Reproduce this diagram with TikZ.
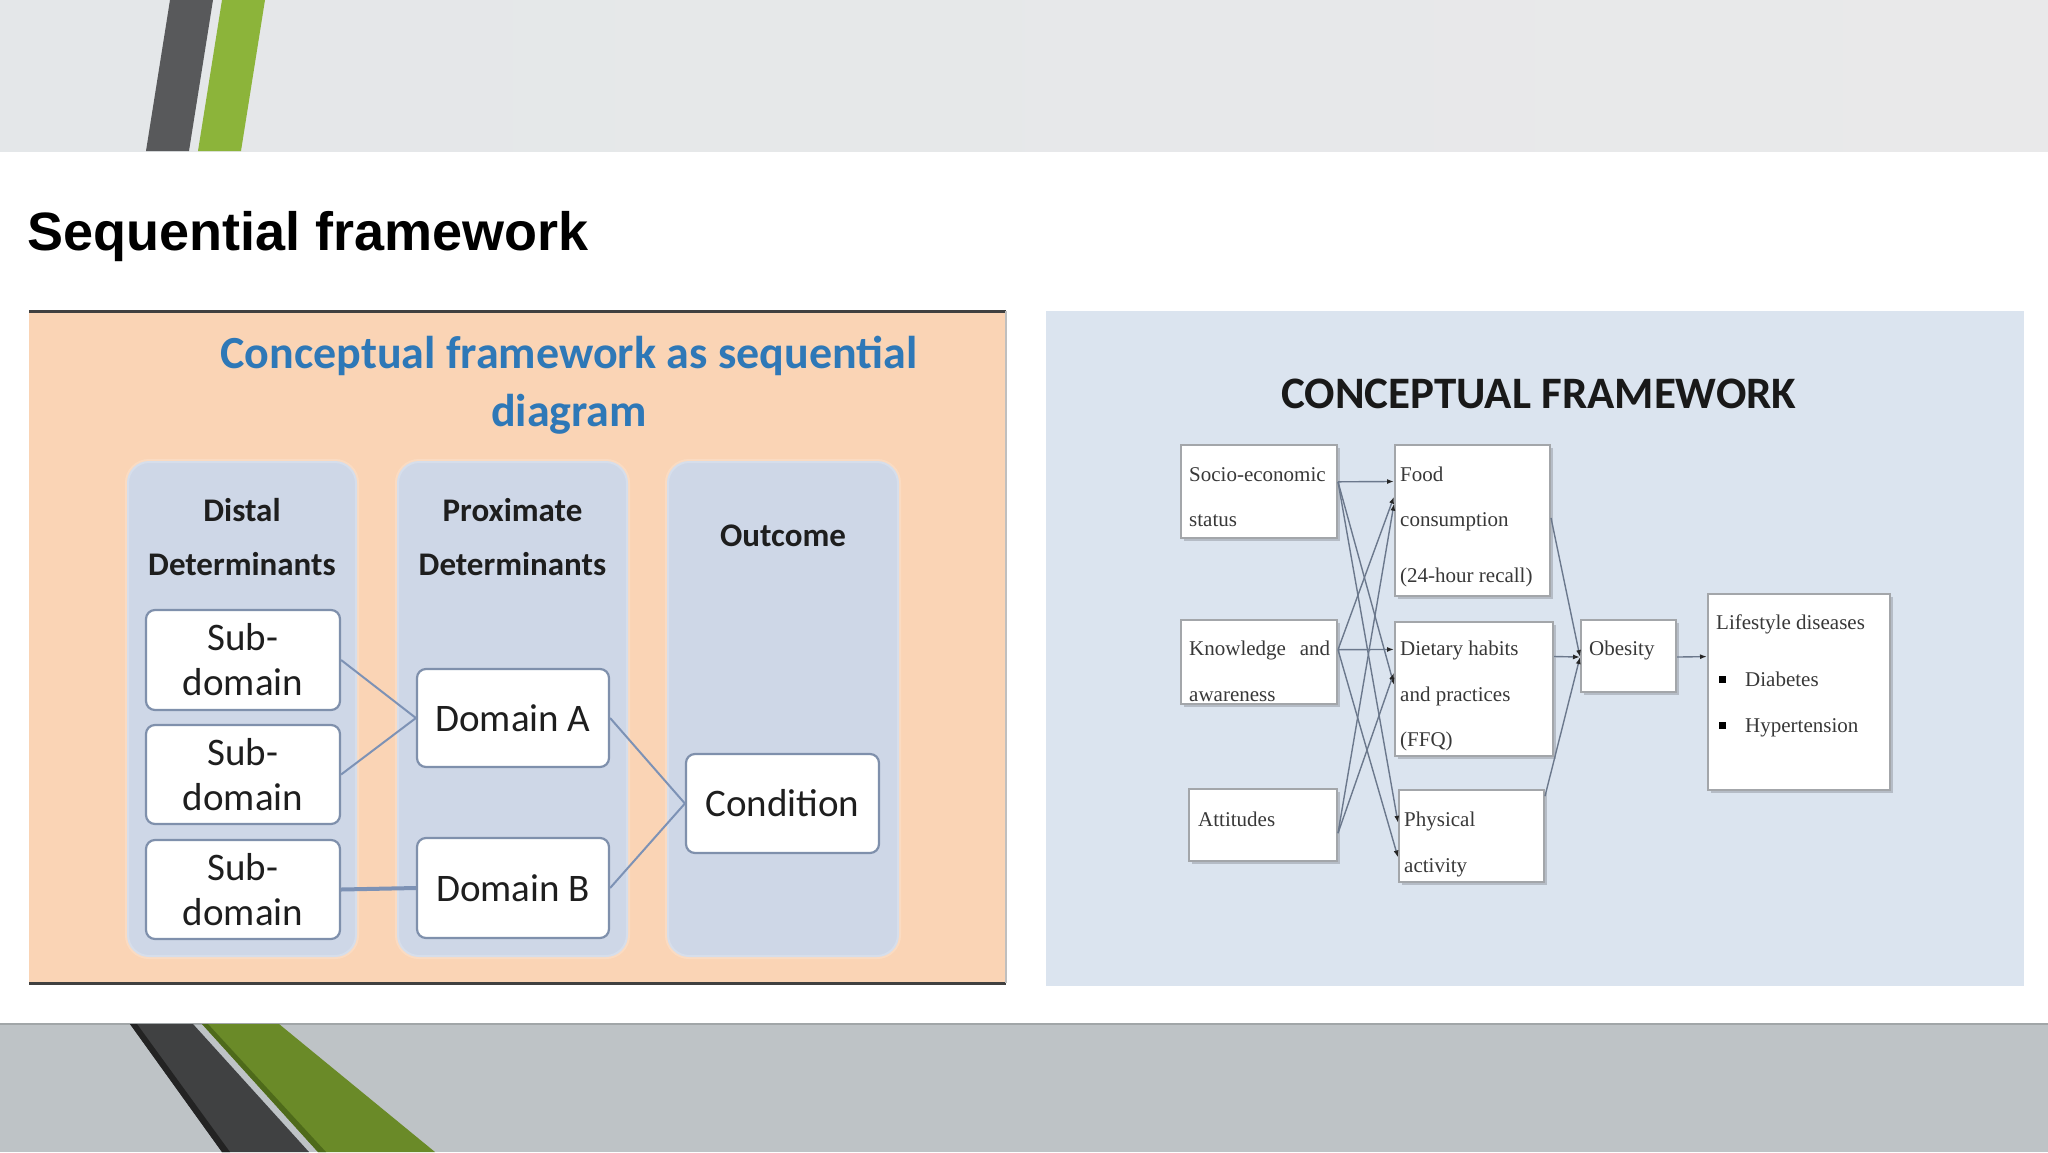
\documentclass[tikz,border=0pt]{standalone}
\usepackage{fontspec}
\setmainfont{Liberation Serif}
\newfontfamily\calib{Carlito}
\newfontfamily\arialf{Liberation Sans}
\usetikzlibrary{arrows.meta,calc,shadows}
\definecolor{topband}{HTML}{E4E7E9}
\definecolor{topbandR}{HTML}{E9E9EA}
\definecolor{botband}{HTML}{BEC3C6}
\definecolor{stripedark}{HTML}{58595B}
\definecolor{stripegreen}{HTML}{8CB43A}
\definecolor{bdark}{HTML}{404142}
\definecolor{bdarkedge}{HTML}{232323}
\definecolor{bgreen}{HTML}{6A8A28}
\definecolor{bgreenedge}{HTML}{4E6A1A}
\definecolor{peach}{HTML}{FAD4B5}
\definecolor{colfill}{HTML}{CED7E7}
\definecolor{lborder}{HTML}{7F90AC}
\definecolor{lline}{HTML}{7D92B5}
\definecolor{titleblue}{HTML}{2E78B7}
\definecolor{txtdark}{HTML}{1E1E1E}
\definecolor{rpanel}{HTML}{DBE4EF}
\definecolor{rborder}{HTML}{A3A6AA}
\definecolor{rshadow}{HTML}{B5BCC6}
\definecolor{rtxt}{HTML}{383838}
\definecolor{rline}{HTML}{6B788C}
\tikzset{
  colbox/.style={rectangle, rounded corners=22pt, fill=colfill, draw=white, draw opacity=0.18, line width=4pt, inner sep=0pt},
  lbox/.style={rectangle, rounded corners=9pt, draw=lborder, line width=2.2pt, fill=white, inner sep=0pt,
    font=\calib\fontsize{39}{45}\selectfont, align=center, text=txtdark},
  lhead/.style={font=\calib\bfseries\fontsize{33}{54}\selectfont, align=center, text=txtdark, inner sep=0pt},
  lconn/.style={draw=lline, line width=2pt},
  rbox/.style={rectangle, draw=rborder, line width=2pt, fill=white, inner sep=0pt,
    drop shadow={shadow xshift=3pt, shadow yshift=-3pt, fill=rshadow, opacity=1}},
  rtext/.style={anchor=base west, inner sep=0pt, font=\fontsize{21}{25}\selectfont, text=rtxt},
  rconn/.style={draw=rline, line width=1.4pt, -{Latex[length=7pt,width=5pt,color=black!85]}}
}
\begin{document}
\begin{tikzpicture}[x=1pt,y=-1pt]
\useasboundingbox (0,0) rectangle (2048,1152);
\fill[white] (0,0) rectangle (2048,1152);
% top band
\shade[left color=topband, right color=topbandR] (0,0) rectangle (2048,151);
\fill[stripedark] (170,0) -- (213,0) -- (189,151) -- (146,151) -- cycle;
\fill[stripegreen] (222,0) -- (265,0) -- (241,151) -- (198,151) -- cycle;
% bottom band
\fill[botband] (0,1024) rectangle (2048,1152);
\draw[line width=1.5pt, color=botband!85!black] (0,1024) -- (2048,1024);
\fill[bdark] (130,1024) -- (193,1024) -- (309,1152) -- (222,1152) -- cycle;
\fill[bdarkedge] (130,1024) -- (137,1024) -- (230,1152) -- (222,1152) -- cycle;
\fill[bgreen] (202,1024) -- (279,1024) -- (435,1152) -- (318,1152) -- cycle;
\fill[bgreenedge] (202,1024) -- (208,1024) -- (326,1152) -- (318,1152) -- cycle;
% slide title
\node[anchor=base west, inner sep=0pt, font=\arialf\bfseries\fontsize{54}{60}\selectfont, text=black] (slidetitle) at (27,250) {Sequential framework};

% ===== left panel =====
\fill[peach] (29,311) rectangle (1006,983);
\draw[line width=3pt, color=black!75] (29,311) -- (1006,311);
\draw[line width=3pt, color=black!75] (29,983) -- (1006,983);
\draw[line width=1.5pt, color=black!25] (1006,311) -- (1006,983);
\node[font=\calib\bfseries\fontsize{46}{58}\selectfont, text=titleblue, align=center, inner sep=0pt] (ltitle) at (569,385) {Conceptual framework as sequential\\diagram};
\node[colbox, minimum width=230pt, minimum height=496pt] (col1) at (242,709) {};
\node[colbox, minimum width=231pt, minimum height=496pt] (col2) at (512.5,709) {};
\node[colbox, minimum width=232pt, minimum height=496pt] (col3) at (783,709) {};
\node[lhead] (h1) at (242,537) {Distal\\Determinants};
\node[lhead] (h2) at (512.5,537) {Proximate\\Determinants};
\node[lhead] (h3) at (783,536) {Outcome};
\node[lbox, minimum width=194pt, minimum height=100pt] (sub1) at (243,660) {Sub-\\domain};
\node[lbox, minimum width=194pt, minimum height=99pt] (sub2) at (243,774.5) {Sub-\\domain};
\node[lbox, minimum width=194pt, minimum height=99pt] (sub3) at (243,889.5) {Sub-\\domain};
\node[lbox, minimum width=192pt, minimum height=98pt] (domA) at (513,718) {Domain A};
\node[lbox, minimum width=192pt, minimum height=100pt] (domB) at (513,888) {Domain B};
\node[lbox, minimum width=193pt, minimum height=99pt] (cond) at (782.5,803.5) {Condition};
\draw[lconn] (sub1.east) -- (domA.west);
\draw[lconn] (sub2.east) -- (domA.west);
\draw[lconn, line width=4pt] (sub3.east) -- (domB.west);
\draw[lconn] (domA.east) -- (cond.west);
\draw[lconn] (domB.east) -- (cond.west);

% ===== right panel =====
\fill[rpanel] (1046,311) rectangle (2024,986);
\node[font=\calib\bfseries\fontsize{45}{54}\selectfont, text=black!90, inner sep=0pt] (rtitle) at (1539,394) {CONCEPTUAL FRAMEWORK};
\node[rbox, minimum width=156pt, minimum height=93pt] (socio) at (1259,491.5) {};
\node[rbox, minimum width=156pt, minimum height=84pt] (know) at (1259,662) {};
\node[rbox, minimum width=148pt, minimum height=72pt] (att) at (1263,825) {};
\node[rbox, minimum width=155pt, minimum height=151pt] (food) at (1472.5,520.5) {};
\node[rbox, minimum width=158pt, minimum height=134pt] (diet) at (1474,689) {};
\node[rbox, minimum width=145pt, minimum height=92pt] (phys) at (1471.5,836) {};
\node[rbox, minimum width=95pt, minimum height=72pt] (obes) at (1628.5,656) {};
\node[rbox, minimum width=182pt, minimum height=196pt] (life) at (1799,692) {};
% texts
\node[rtext] (t1) at (1189,481) {Socio-economic};
\node[rtext] (t2) at (1189,526) {status};
\node[rtext] (t3) at (1189,655) {\makebox[141pt][s]{Knowledge and}};
\node[rtext] (t4) at (1189,701) {awareness};
\node[rtext] (t5) at (1198,826) {Attitudes};
\node[rtext] (t6) at (1400,481) {Food};
\node[rtext] (t7) at (1400,526) {consumption};
\node[rtext] (t8) at (1400,582) {(24-hour recall)};
\node[rtext] (t9) at (1400,655) {Dietary habits};
\node[rtext] (t10) at (1400,701) {and practices};
\node[rtext] (t11) at (1400,746) {(FFQ)};
\node[rtext] (t12) at (1404,826) {Physical};
\node[rtext] (t13) at (1404,872) {activity};
\node[rtext] (t14) at (1589,655) {Obesity};
\node[rtext] (t15) at (1716,629) {Lifestyle diseases};
\node[rtext] (t16) at (1745,686) {Diabetes};
\node[rtext] (t17) at (1745,732) {Hypertension};
\fill[black] (1719,676) rectangle (1726,683);
\fill[black] (1719,722) rectangle (1726,729);
% connectors
\draw[rconn] ($(socio.north east)!0.398!(socio.south east)$) -- ($(food.north west)!0.245!(food.south west)$);
\draw[rconn] ($(socio.north east)!0.398!(socio.south east)$) -- ($(diet.north west)!0.47!(diet.south west)$);
\draw[rconn] ($(socio.north east)!0.398!(socio.south east)$) -- ($(phys.north west)!0.36!(phys.south west)$);
\draw[rconn] ($(know.north east)!0.357!(know.south east)$) -- ($(food.north west)!0.344!(food.south west)$);
\draw[rconn] ($(know.north east)!0.357!(know.south east)$) -- ($(diet.north west)!0.209!(diet.south west)$);
\draw[rconn] ($(know.north east)!0.357!(know.south east)$) -- ($(phys.north west)!0.728!(phys.south west)$);
\draw[rconn] ($(att.north east)!0.61!(att.south east)$) -- ($(food.north west)!0.39!(food.south west)$);
\draw[rconn] ($(att.north east)!0.61!(att.south east)$) -- ($(diet.north west)!0.38!(diet.south west)$);
\draw[rconn] ($(food.north east)!0.483!(food.south east)$) -- ($(obes.north west)!0.514!(obes.south west)$);
\draw[rconn] ($(diet.north east)!0.261!(diet.south east)$) -- ($(obes.north west)!0.514!(obes.south west)$);
\draw[rconn] ($(phys.north east)!0.076!(phys.south east)$) -- ($(obes.north west)!0.514!(obes.south west)$);
\draw[rconn] ($(obes.north east)!0.514!(obes.south east)$) -- ($(life.north west)!0.321!(life.south west)$);
\end{tikzpicture}
\end{document}
